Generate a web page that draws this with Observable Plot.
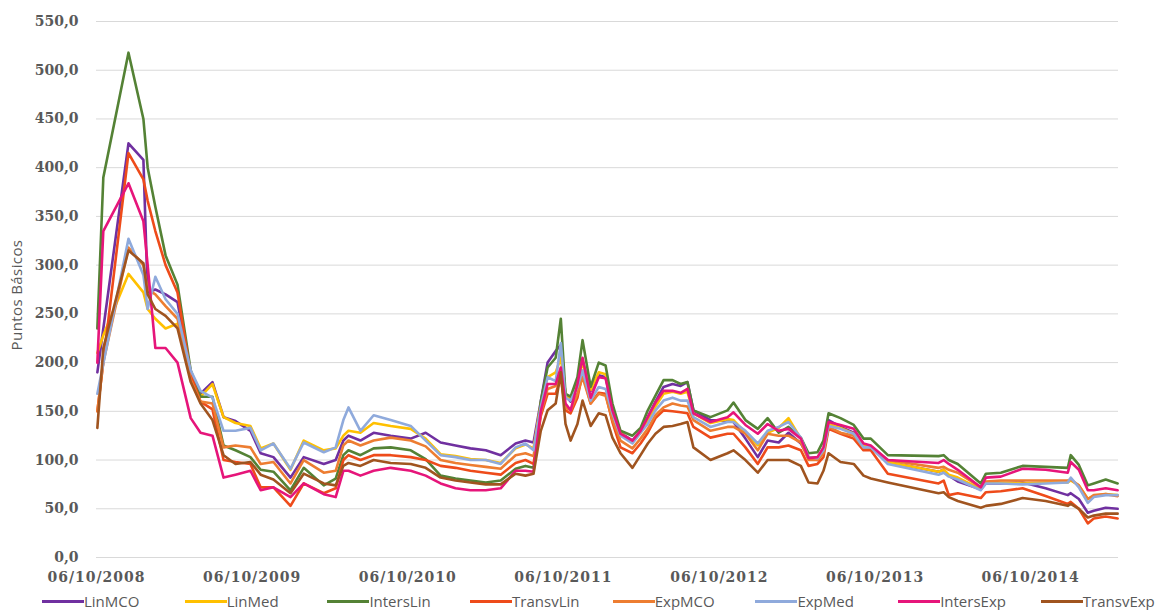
<!DOCTYPE html>
<html><head><meta charset="utf-8">
<script src="https://cdn.jsdelivr.net/npm/d3@7"></script>
<script src="https://cdn.jsdelivr.net/npm/@observablehq/plot@0.6"></script>
<style>
body{margin:0;background:#fff;}
#wrap{position:relative;width:1159px;height:610px;overflow:hidden;background:#fff;}
#ytitle{position:absolute;left:16px;top:295px;transform:translate(-50%,-50%) rotate(-90deg);font:15px "Open Sans",sans-serif;color:#595959;white-space:nowrap;letter-spacing:0.4px;}
#legend{position:absolute;left:42px;top:591px;display:flex;flex-wrap:nowrap;}
.item{width:142.7px;flex:none;display:flex;align-items:center;font:15px "Open Sans",sans-serif;color:#595959;height:20px;white-space:nowrap;}
.sw{width:42px;height:3px;flex:none;}
#chart svg g[aria-label="x-axis tick label"] text{letter-spacing:1px;}
</style></head>
<body><div id="wrap"><div id="chart"></div><div id="ytitle">Puntos Básicos</div><div id="legend"></div></div>
<script>
const seriesNames = ["LinMCO","LinMed","IntersLin","TransvLin","ExpMCO","ExpMed","IntersExp","TransvExp"];
const seriesColors = ["#7030A0","#FFC000","#548235","#EE4B1A","#ED7D31","#8FAADC","#E6157A","#A0541F"];
const yTicks = [0,50,100,150,200,250,300,350,400,450,500,550];
const xTickDates = ["2008-10-06","2009-10-06","2010-10-06","2011-10-06","2012-10-06","2013-10-06","2014-10-06"];

const dates = [
"2008-10-08","2008-10-22","2008-12-20","2009-01-24","2009-02-03","2009-02-21","2009-03-17","2009-04-14","2009-05-15","2009-06-07",
"2009-07-05","2009-07-31","2009-08-28","2009-10-02","2009-10-26","2009-11-25","2010-01-04","2010-02-04","2010-03-23","2010-04-20",
"2010-05-08","2010-05-20","2010-06-17","2010-07-18","2010-08-27","2010-10-13","2010-11-17","2010-12-22","2011-01-26","2011-03-02",
"2011-04-07","2011-05-12","2011-06-16","2011-07-09","2011-07-28","2011-08-14","2011-08-30","2011-09-18","2011-09-30","2011-10-11",
"2011-10-23","2011-11-08","2011-11-20","2011-12-09","2011-12-28","2012-01-13","2012-01-29","2012-02-17","2012-03-16","2012-04-04",
"2012-04-21","2012-05-09","2012-05-28","2012-06-18","2012-07-07","2012-07-23","2012-08-06","2012-09-15","2012-10-25","2012-11-08",
"2012-12-06","2013-01-04","2013-01-27","2013-02-22","2013-03-17","2013-04-15","2013-05-03","2013-05-24","2013-06-07","2013-06-19",
"2013-07-17","2013-08-17","2013-09-09","2013-09-26","2013-11-05","2014-03-04","2014-03-16","2014-03-28","2014-04-18","2014-06-11",
"2014-06-23","2014-07-28","2014-09-17","2014-11-10","2015-01-01","2015-01-08","2015-01-27","2015-02-17","2015-03-03","2015-03-31",
"2015-04-28"];

const LinMCO = [
190,235,425,408,272,275,270,262,190,168,
180,144,140,130,107,103,82,103,96,100,
120,125,120,128,125,122,128,118,115,112,
110,105,117,120,118,160,200,212,218,166,
160,182,202,171,187,185,154,128,120,130,
144,160,175,178,176,180,151,141,140,139,
122,103,120,118,128,117,103,100,108,141,
134,128,113,113,98,88,90,84,78,70,
76,76,77,71,64,66,60,46,48,51,50];
const LinMed = [
210,228,291,272,255,245,235,240,190,165,
178,144,138,135,112,117,90,120,110,112,
125,130,128,138,135,132,122,106,104,101,
100,97,112,116,112,158,185,190,205,168,
162,180,200,172,190,188,155,128,118,128,
140,155,168,170,168,170,148,138,142,141,
128,115,128,133,143,122,103,102,110,137,
133,127,114,114,98,88,90,85,82,70,
77,77,76,77,77,79,74,60,63,65,64];
const IntersLin = [
235,390,518,450,400,360,310,280,192,165,
165,115,110,103,90,88,69,92,74,81,
105,110,105,112,113,110,101,84,81,79,
77,79,91,94,92,160,195,205,245,168,
165,185,223,175,200,197,158,130,125,133,
151,166,182,182,178,180,151,144,151,159,
141,132,143,128,134,123,107,108,120,148,
143,136,122,122,105,104,105,100,96,76,
86,87,94,93,92,105,95,74,76,80,76];
const TransvLin = [
150,201,415,388,366,335,300,272,188,160,
152,100,98,96,72,72,53,76,66,71,
100,105,100,105,105,103,100,94,92,89,
87,85,97,100,96,145,168,168,185,151,
148,164,189,158,169,168,139,113,107,117,
128,143,151,150,149,148,134,123,127,127,
113,96,113,113,115,110,94,96,103,132,
127,122,110,110,86,76,79,64,66,61,
67,68,71,63,55,57,50,35,40,42,40];
const ExpMCO = [
150,200,318,300,275,270,258,245,182,160,
158,113,115,113,96,98,76,100,87,89,
115,120,115,120,123,120,114,100,97,95,
93,91,105,107,104,148,173,176,189,154,
151,168,185,158,168,166,141,120,112,122,
132,146,154,158,156,155,141,130,134,134,
127,110,127,125,125,118,100,100,107,134,
128,125,113,113,100,92,93,90,87,72,
78,79,79,79,79,80,74,60,64,65,63];
const ExpMed = [
168,199,327,290,255,288,265,250,192,171,
164,130,130,133,110,117,91,118,108,113,
141,154,130,146,141,135,120,105,103,100,
100,96,113,117,110,155,185,181,220,164,
161,175,192,161,175,173,148,125,117,128,
137,151,161,164,161,161,144,134,139,139,
130,117,130,134,139,123,103,102,110,135,
132,127,113,113,96,85,87,83,80,69,
76,76,75,76,77,82,72,56,62,64,64];
const IntersExp = [
200,335,384,345,300,215,215,200,143,128,
125,82,85,89,69,72,62,76,65,62,
89,89,84,89,92,89,84,76,71,69,
69,71,89,89,88,150,178,178,195,158,
151,178,205,164,185,184,151,127,120,130,
144,159,171,171,169,173,148,139,144,149,
136,127,137,130,132,122,102,103,113,139,
136,132,117,115,100,97,100,96,90,72,
82,83,91,90,87,98,90,69,69,71,69];
const TransvExp = [
133,215,315,302,270,255,248,235,180,158,
141,105,96,98,85,80,66,86,76,74,
94,97,94,100,97,96,92,82,79,77,
75,75,86,84,86,130,151,158,190,137,
120,137,161,135,148,146,123,107,92,105,
117,127,134,135,137,139,113,100,107,110,
100,87,100,100,100,94,77,76,89,107,
98,96,84,81,77,66,67,62,58,51,
53,55,61,58,53,55,50,41,43,45,45];

const seriesValues = [LinMCO, LinMed, IntersLin, TransvLin, ExpMCO, ExpMed, IntersExp, TransvExp];
const parseDate = d3.utcParse("%Y-%m-%d");
const data = [];
seriesNames.forEach((name, s) => {
  seriesValues[s].forEach((v, i) => data.push({series: name, date: parseDate(dates[i]), value: v}));
});

const chart = Plot.plot({
  width: 1159,
  height: 590,
  marginLeft: 96,
  marginRight: 41,
  marginTop: 21,
  marginBottom: 33,
  style: {fontFamily: "'DejaVu Serif', serif", fontSize: "14px", fontWeight: "bold", color: "#595959", background: "#fff"},
  x: {type: "utc", domain: [parseDate("2008-10-06"), parseDate("2015-04-30")]},
  y: {domain: [0, 550]},
  color: {domain: seriesNames, range: seriesColors},
  marks: [
    Plot.gridY(yTicks, {stroke: "#d9d9d9", strokeOpacity: 1, strokeWidth: 1}),
    Plot.axisY({ticks: yTicks, tickFormat: d => d.toFixed(1).replace(".", ","), tickSize: 0, tickPadding: 18, label: null}),
    Plot.axisX({ticks: xTickDates.map(parseDate), tickFormat: d3.utcFormat("%d/%m/%Y"), tickSize: 0, tickPadding: 15, label: null}),
    Plot.line(data, {x: "date", y: "value", z: "series", stroke: "series", strokeWidth: 2.6, strokeLinejoin: "round", strokeLinecap: "round"})
  ]
});
document.getElementById("chart").appendChild(chart);

const legend = document.getElementById("legend");
seriesNames.forEach((name, s) => {
  const it = document.createElement("div");
  it.className = "item";
  const sw = document.createElement("span");
  sw.className = "sw";
  sw.style.background = seriesColors[s];
  const tx = document.createElement("span");
  tx.textContent = name;
  it.appendChild(sw); it.appendChild(tx);
  legend.appendChild(it);
});
</script>
</body></html>
